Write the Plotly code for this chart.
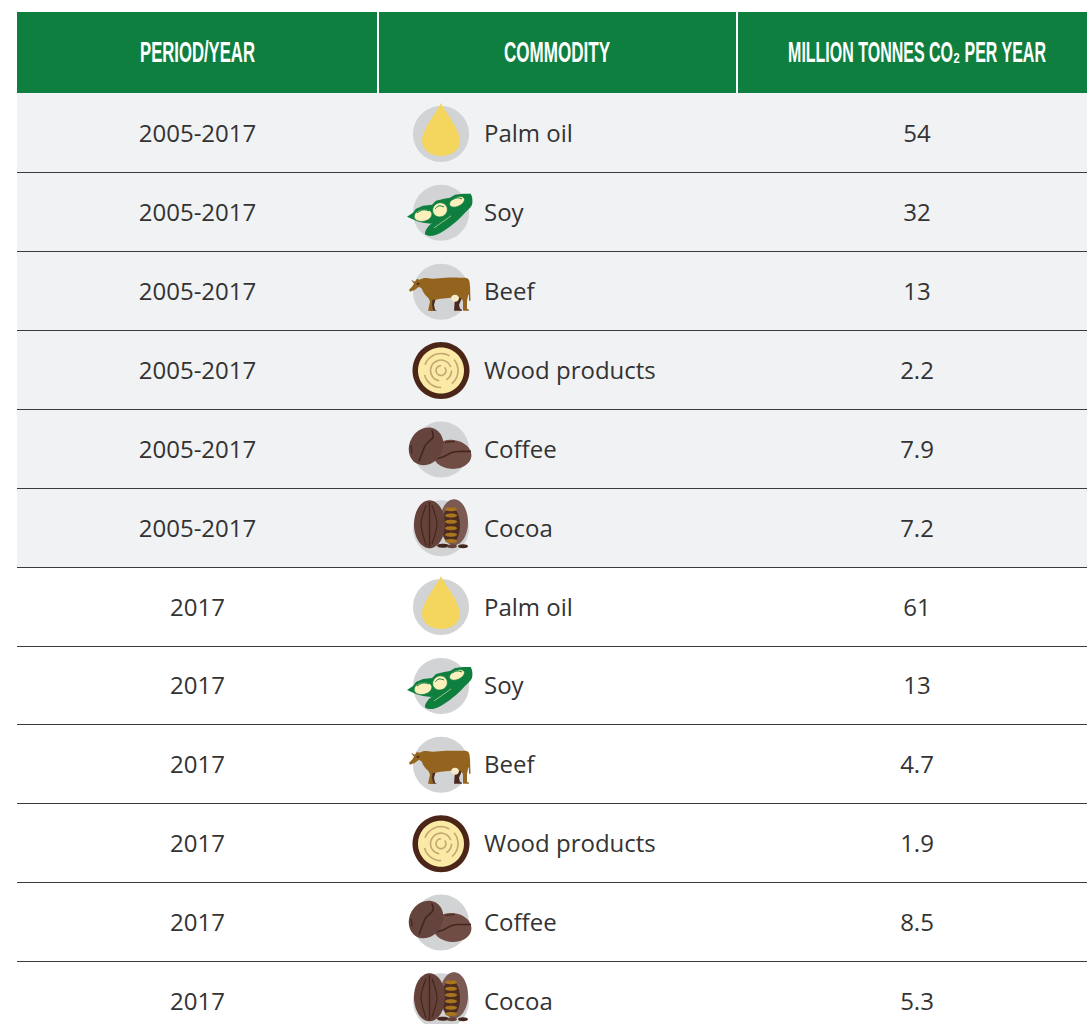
import math
import plotly.graph_objects as go

# ---- data ----
headers = ["PERIOD/YEAR", "COMMODITY", "MILLION TONNES CO₂ PER YEAR"]
periods = ["2005-2017"] * 6 + ["2017"] * 6
commodities = ["Palm oil", "Soy", "Beef", "Wood products", "Coffee", "Cocoa"] * 2
values = ["54", "32", "13", "2.2", "7.9", "7.2", "61", "13", "4.7", "1.9", "8.5", "5.3"]

# ---- layout constants ----
W, H = 1087, 1024
LEFT = 17
HEAD_TOP, HEAD_BOTTOM = 12, 93
ROW_H = 78.85
COL_LINES = [378, 737]
COL1_X, COL2_X, COL3_X = 197.5, 484, 917
ICON_X = 441
HEAD_XS = [197.5, 557, 917]
TEXT_SHIFT = 3.4

GREEN = "#0F7F40"
STRIPE = "#F1F2F4"
TEXT = "#333333"
GRAY = "#D1D3D4"
RULE = "#3C3C3C"

shapes = []


def rect(x0, y0, x1, y1, color):
    shapes.append(dict(type="rect", x0=x0, y0=y0, x1=x1, y1=y1, fillcolor=color,
                       line=dict(width=0), layer="below"))


def hline(y, color=RULE, width=1):
    shapes.append(dict(type="line", x0=LEFT, x1=W, y0=y, y1=y,
                       line=dict(color=color, width=width), layer="below"))


def path(d, fill=None, stroke=None, sw=1):
    shapes.append(dict(type="path", path=d, fillcolor=fill if fill else "rgba(0,0,0,0)",
                       line=dict(color=stroke if stroke else "rgba(0,0,0,0)",
                                 width=sw if stroke else 0),
                       layer="below"))


def poly(cx, cy, pts, fill=None, stroke=None, sw=1, close=True):
    """Smooth closed/open curve through local points (Catmull-Rom to bezier)."""
    n = len(pts)
    P = [(cx + a, cy + b) for a, b in pts]
    d = f"M {P[0][0]:.2f},{P[0][1]:.2f}"
    rng = range(n) if close else range(n - 1)
    for i in rng:
        if close:
            p0, p1, p2, p3 = P[(i - 1) % n], P[i], P[(i + 1) % n], P[(i + 2) % n]
        else:
            p0, p1, p2, p3 = P[max(i - 1, 0)], P[i], P[i + 1], P[min(i + 2, n - 1)]
        c1 = (p1[0] + (p2[0] - p0[0]) / 6, p1[1] + (p2[1] - p0[1]) / 6)
        c2 = (p2[0] - (p3[0] - p1[0]) / 6, p2[1] - (p3[1] - p1[1]) / 6)
        d += f" C {c1[0]:.2f},{c1[1]:.2f} {c2[0]:.2f},{c2[1]:.2f} {p2[0]:.2f},{p2[1]:.2f}"
    if close:
        d += " Z"
    path(d, fill, stroke, sw)


def lines(cx, cy, pts, fill=None):
    d = "M " + " L ".join(f"{cx + a:.2f},{cy + b:.2f}" for a, b in pts) + " Z"
    path(d, fill)


def ellipse(cx, cy, rx, ry, rot=0, fill=None, stroke=None, sw=1):
    k = 0.5523
    r = math.radians(rot)

    def t(a, b):
        return (cx + a * math.cos(r) - b * math.sin(r), cy + a * math.sin(r) + b * math.cos(r))

    seg = [((rx, k * ry), (k * rx, ry), (0, ry)), ((-k * rx, ry), (-rx, k * ry), (-rx, 0)),
           ((-rx, -k * ry), (-k * rx, -ry), (0, -ry)), ((k * rx, -ry), (rx, -k * ry), (rx, 0))]
    s = t(rx, 0)
    d = f"M {s[0]:.2f},{s[1]:.2f}"
    for c1, c2, e in seg:
        a, b, c = t(*c1), t(*c2), t(*e)
        d += f" C {a[0]:.2f},{a[1]:.2f} {b[0]:.2f},{b[1]:.2f} {c[0]:.2f},{c[1]:.2f}"
    path(d + " Z", fill, stroke, sw)


def palm(cx, cy):
    ellipse(cx, cy, 28, 28, fill=GRAY)
    path(f"M {cx},{cy-31} C {cx-4},{cy-22} {cx-19},{cy-5} {cx-19},{cy+7} "
         f"C {cx-19},{cy+16} {cx-10},{cy+22} {cx},{cy+22} "
         f"C {cx+10},{cy+22} {cx+19},{cy+16} {cx+19},{cy+7} "
         f"C {cx+19},{cy-5} {cx+4},{cy-22} {cx},{cy-31} Z", "#F4D55E")


def soy(cx, cy):
    g, cream = "#0F7F40", "#FBF0BB"
    ellipse(cx, cy, 28, 28, fill=GRAY)
    # lower pod
    poly(cx, cy, [(-16, 21), (-11, 12), (1, 5), (12, -3), (24, -11), (30, -18), (31, -8), (24, 0), (15, 9),
                  (3, 18), (-8, 23)], g)
    # upper pod
    lines(cx, cy, [(-34, 4), (-28, 0), (-25, -4), (-18, -7), (-9, -8), (-5, -12), (3, -14), (9, -15), (14, -18),
                   (22, -19), (30, -19), (30, -10), (24, -5), (15, 0), (6, 5), (-3, 9), (-10, 11), (-18, 10),
                   (-25, 8)], g)
    ellipse(cx - 18, cy + 2.5, 9, 6, -12, cream, g, 0.8)
    ellipse(cx - 1, cy - 3, 7.5, 7, -30, cream, g, 0.8)
    ellipse(cx + 16, cy - 11, 8, 4.5, -25, cream, g, 0.8)
    poly(cx, cy, [(-24, 0), (-18, -3), (-12, -2)], None, g, 1, close=False)
    poly(cx, cy, [(-6, -4), (-2, -7), (3, -6)], None, g, 1, close=False)
    poly(cx, cy, [(11, -13), (16, -15), (21, -14)], None, g, 1, close=False)
    poly(cx, cy, [(-7, 15), (3, 8), (10, 3)], None, "#9CCB8A", 1, close=False)


def beef(cx, cy):
    brown, dark = "#94641F", "#4A2A20"
    ellipse(cx, cy, 28, 28, fill=GRAY)
    # far legs
    lines(cx, cy, [(-11, 6), (-5, 6), (-7, 13), (-6, 18), (-4, 19), (-11, 19)], dark)
    lines(cx, cy, [(14, 6), (21, 6), (18, 13), (19, 17), (21, 18), (21, 19), (13, 19)], dark)
    # body
    poly(cx, cy, [(-19, -13), (-8, -13), (5, -14), (18, -14), (27, -13), (29, -5), (28, 2), (23, 6),
                  (10, 6), (0, 7), (-9, 8), (-15, 4), (-19, -3)], brown)
    # head
    lines(cx, cy, [(-32, -2), (-29, -5), (-27, -8), (-30, -12), (-26, -10), (-24, -13), (-22, -12), (-19, -13),
                   (-14, -10), (-14, 2), (-19, -3), (-22, -5), (-26, -2), (-31, 0)], brown)
    # near legs and tail
    lines(cx, cy, [(-14, 2), (-8, 4), (-9, 13), (-8, 18), (-7, 19), (-13, 19), (-11, 10)], brown)
    lines(cx, cy, [(19, 2), (28, 0), (26, 8), (26, 17), (28, 18), (28, 19), (22, 19), (22, 10)], brown)
    lines(cx, cy, [(28, -6), (29, -6), (29.5, 9), (28, 9)], brown)
    ellipse(cx + 14, cy + 6.5, 4, 3.5, 0, "#F5EBC8")
    ellipse(cx - 23, cy - 8, 1.5, 1, 0, dark)


def wood(cx, cy):
    ring = "#C4A573"
    ellipse(cx, cy, 28.5, 28.5, fill="#4B2618")
    ellipse(cx, cy, 23, 23, fill="#FBEAA5")

    def arc(r, a0, a1):
        pts = [(r * math.cos(math.radians(a0 + (a1 - a0) * i / 8)),
                r * math.sin(math.radians(a0 + (a1 - a0) * i / 8))) for i in range(9)]
        poly(cx, cy, pts, None, ring, 1.6, close=False)

    arc(5, -40, 270)
    arc(10.5, 100, 340)
    arc(10.5, 0, 60)
    arc(17, 200, 300)
    arc(17, -40, 50)
    arc(17, 90, 165)


def coffee(cx, cy):
    b1, b2, dk = "#64443C", "#6F4D45", "#43261E"
    ellipse(cx, cy, 28, 28, fill=GRAY)
    ellipse(cx + 11, cy + 5, 19.5, 14.5, 5, b2)
    poly(cx, cy, [(-6, 10), (3, 7), (11, 3), (20, 2), (30, 2)], None, dk, 1.6, close=False)
    poly(cx, cy, [(4, -7), (14, -8)], None, dk, 1.2, close=False)
    ellipse(cx - 15, cy - 3, 16.5, 19.5, 30, b1)
    poly(cx, cy, [(-9, -19), (-8, -12), (-15, -5), (-19, 4), (-22, 12)], None, dk, 1.6, close=False)
    poly(cx, cy, [(-30, -4), (-29, 4)], None, dk, 1.2, close=False)


def cocoa(cx, cy):
    pod1, pod2, dk, seed = "#654239", "#7A5A52", "#43261E", "#A9761F"
    ellipse(cx, cy, 28, 28, fill=GRAY)
    ellipse(cx + 13, cy - 6, 14, 23, 0, pod2)
    ellipse(cx + 10, cy - 3, 9, 18, 0, "#4A2C22")
    for dy in (-19, -12.7, -6.4, 0, 6.4, 12.7):
        ellipse(cx + 10, cy + dy, 6, 2, 0, seed)
    ellipse(cx - 11.5, cy - 4, 15.5, 24, 0, pod1)
    poly(cx, cy, [(-11.5, -26), (-11.5, 19)], None, dk, 1.4, close=False)
    poly(cx, cy, [(-9, -23), (-4, -4), (-9, 16)], None, dk, 1.2, close=False)
    poly(cx, cy, [(-15, -23), (-20, -4), (-15, 17)], None, dk, 1.2, close=False)
    ellipse(cx + 2, cy + 17.5, 6, 2, 0, dk)
    ellipse(cx + 11, cy + 18, 5, 2, 0, pod1)
    ellipse(cx + 22, cy + 18, 5, 2, 0, dk)


ICONS = {"Palm oil": palm, "Soy": soy, "Beef": beef, "Wood products": wood,
         "Coffee": coffee, "Cocoa": cocoa}

centers = [133 + ROW_H * i for i in range(len(periods))]
text_y = [c + TEXT_SHIFT for c in centers]

rect(LEFT, HEAD_BOTTOM, W, round(centers[5] + ROW_H / 2), STRIPE)
rect(LEFT, HEAD_TOP, W, HEAD_BOTTOM, GREEN)
for x in COL_LINES:
    rect(x - 1, HEAD_TOP, x + 1, HEAD_BOTTOM, "#FFFFFF")
for c in centers[:-1]:
    hline(round(c + ROW_H / 2) + 0.5)
for c, name in zip(centers, commodities):
    ICONS[name](ICON_X, c + 1)

fig = go.Figure()
fig.add_trace(go.Scatter(x=HEAD_XS, y=[55] * 3, text=headers, mode="text", textposition="middle center",
                         textfont=dict(family="Liberation Sans", size=29, color="#FFFFFF", weight=700),
                         hoverinfo="skip", showlegend=False))
body = dict(family="Open Sans", size=24, color=TEXT)
fig.add_trace(go.Scatter(x=[COL1_X] * 12, y=text_y, text=periods, mode="text", textposition="middle center",
                         textfont=body, hoverinfo="skip", showlegend=False))
fig.add_trace(go.Scatter(x=[COL2_X] * 12, y=text_y, text=commodities, mode="text", textposition="middle right",
                         textfont=body, hoverinfo="skip", showlegend=False))
fig.add_trace(go.Scatter(x=[COL3_X] * 12, y=text_y, text=values, mode="text", textposition="middle center",
                         textfont=body, hoverinfo="skip", showlegend=False))

fig.update_layout(width=W, height=H, margin=dict(l=0, r=0, t=0, b=0), plot_bgcolor="#FFFFFF",
                  paper_bgcolor="#FFFFFF", shapes=shapes, hovermode=False, showlegend=False,
                  xaxis=dict(range=[0, W], visible=False, fixedrange=True),
                  yaxis=dict(range=[H, 0], visible=False, fixedrange=True))

post = """
document.body.style.margin = '0';
document.body.style.overflow = 'hidden';
var widths = {'PERIOD/YEAR': 115, 'COMMODITY': 106, 'MILLION TONNES CO\\u2082 PER YEAR': 258};
document.querySelectorAll('.textpoint text').forEach(function (t) {
  var w = widths[t.textContent];
  if (w) {
    t.style.transformBox = 'fill-box';
    t.style.transformOrigin = 'center';
    t.style.transform = 'scaleX(' + (w / t.getComputedTextLength()) + ')';
  }
});
"""
fig.write_html("out.html", post_script=post, config=dict(displayModeBar=False))
